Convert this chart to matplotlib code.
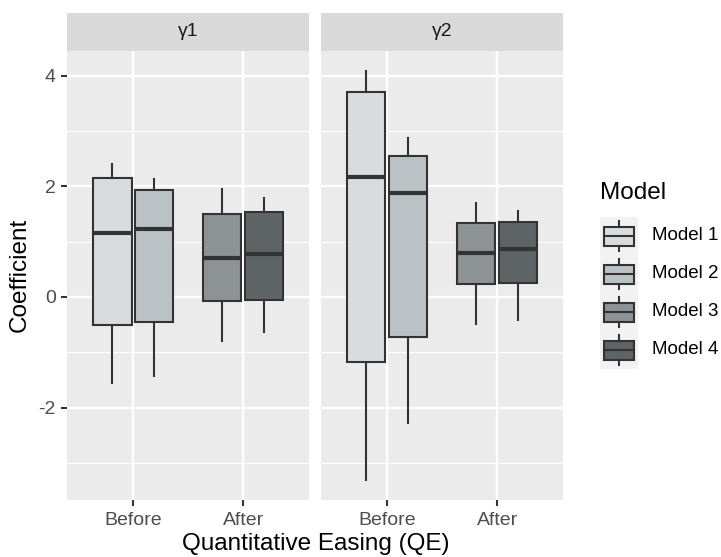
import matplotlib
matplotlib.use('Agg')
import matplotlib.pyplot as plt
from matplotlib.patches import Rectangle
from matplotlib.lines import Line2D

plt.rcParams['font.family'] = ['Liberation Sans', 'DejaVu Sans']
plt.rcParams['axes.unicode_minus'] = False

# ---------------- data ----------------
facets = ['γ1', 'γ2']
periods = ['Before', 'After']
models = ['Model 1', 'Model 2', 'Model 3', 'Model 4']
model_period = ['Before', 'Before', 'After', 'After']
model_offset = [-0.19, 0.19, -0.19, 0.19]
colors = ['#d8dcdf', '#bbc2c5', '#8d9295', '#5e6366']

g1_whislo = [-1.55, -1.43, -0.79, -0.64]
g1_q1 = [-0.50, -0.45, -0.08, -0.05]
g1_med = [1.15, 1.22, 0.71, 0.77]
g1_q3 = [2.14, 1.93, 1.49, 1.53]
g1_whishi = [2.40, 2.13, 1.95, 1.78]

g2_whislo = [-3.30, -2.27, -0.48, -0.41]
g2_q1 = [-1.18, -0.72, 0.24, 0.25]
g2_med = [2.16, 1.88, 0.80, 0.87]
g2_q3 = [3.71, 2.55, 1.34, 1.36]
g2_whishi = [4.08, 2.88, 1.69, 1.55]

facet_stats = [
    (g1_whislo, g1_q1, g1_med, g1_q3, g1_whishi),
    (g2_whislo, g2_q1, g2_med, g2_q3, g2_whishi),
]

yticks = [-2, 0, 2, 4]
yminor = [-3, -1, 1, 3]

# ---------------- layout ----------------
W, H = 721, 557
fig = plt.figure(figsize=(W / 100, H / 100), dpi=100)


def fx(px):
    return px / W


def fy(py):
    return 1 - py / H


panel_x = [(67.3, 309.0), (320.7, 563.3)]
p_top, p_bot = 50.7, 500.0
s_top = 12.7

edge = '#333333'
lw_box = 1.5
lw_med = 3.0

all_lo = min(min(s[0]) for s in facet_stats)
all_hi = max(max(s[4]) for s in facet_stats)
pad = (all_hi - all_lo) * 0.05
ylim = (all_lo - pad, all_hi + pad)

for i, (x0, x1) in enumerate(panel_x):
    ax = fig.add_axes([fx(x0), fy(p_bot), fx(x1 - x0), (p_bot - p_top) / H])
    ax.set_facecolor('#ebebeb')
    for sp in ax.spines.values():
        sp.set_visible(False)
    ax.set_xlim(0.4, 2.6)
    ax.set_ylim(*ylim)
    ax.set_yticks(yticks)
    ax.set_yticks(yminor, minor=True)
    ax.set_xticks([1, 2])
    ax.set_xticklabels(periods)
    ax.grid(which='minor', axis='y', color='white', lw=0.85)
    ax.grid(which='major', axis='both', color='white', lw=1.7)
    ax.set_axisbelow(True)
    ax.tick_params(axis='both', which='major', length=4.4, width=1.5,
                   color='#333333', labelcolor='#4d4d4d', labelsize=14, pad=4)
    ax.tick_params(axis='both', which='minor', length=0)
    if i == 1:
        ax.tick_params(axis='y', which='major', length=0, labelleft=False)

    wl, q1, md, q3, wh = facet_stats[i]
    stats, pos = [], []
    for m in range(len(models)):
        stats.append(dict(whislo=wl[m], q1=q1[m], med=md[m], q3=q3[m],
                          whishi=wh[m], fliers=[], label=models[m]))
        pos.append(periods.index(model_period[m]) + 1 + model_offset[m])
    bp = ax.bxp(stats, positions=pos, widths=0.35, patch_artist=True,
                showfliers=False, showcaps=False, manage_ticks=False,
                boxprops=dict(edgecolor=edge, linewidth=lw_box),
                whiskerprops=dict(color=edge, linewidth=lw_box),
                medianprops=dict(color=edge, linewidth=lw_med,
                                 solid_capstyle='butt'))
    for patch, c in zip(bp['boxes'], colors):
        patch.set_facecolor(c)
    for b in bp['boxes']:
        b.set_zorder(3)
    for w in bp['whiskers']:
        w.set_zorder(2)
    for m_ in bp['medians']:
        m_.set_zorder(4)

    # strip
    sax = fig.add_axes([fx(x0), fy(p_top), fx(x1 - x0), (p_top - s_top) / H])
    sax.set_facecolor('#d9d9d9')
    sax.set_xticks([])
    sax.set_yticks([])
    for sp in sax.spines.values():
        sp.set_visible(False)
    sax.text(0.5, 0.5, facets[i], ha='center', va='center',
             fontsize=14, color='#1a1a1a', transform=sax.transAxes)

# axis titles
fig.text(fx((67.3 + 563.3) / 2), fy(544), 'Quantitative Easing (QE)',
         ha='center', va='center', fontsize=17.5, color='black')
fig.text(fx(20), fy((p_top + p_bot) / 2), 'Coefficient', rotation=90,
         ha='center', va='center', fontsize=17.5, color='black')

# legend
fig.text(fx(600), fy(193), 'Model', ha='left', va='center',
         fontsize=17.5, color='black')
key = 38.0
k_left, k_top = 600.0, 217.0
lax = fig.add_axes([fx(k_left), fy(k_top + key * 4), fx(key), key * 4 / H])
lax.set_xlim(0, 1)
lax.set_ylim(4, 0)
lax.axis('off')
for m, c in enumerate(colors):
    lax.add_patch(Rectangle((0, m), 1, 1, facecolor='#f2f2f2', edgecolor='none'))
    lax.add_line(Line2D([0.5, 0.5], [m + 0.1, m + 0.25], color=edge, lw=lw_box))
    lax.add_line(Line2D([0.5, 0.5], [m + 0.75, m + 0.9], color=edge, lw=lw_box))
    lax.add_patch(Rectangle((0.1, m + 0.25), 0.8, 0.5, facecolor=c,
                            edgecolor=edge, lw=lw_box))
    lax.add_line(Line2D([0.1, 0.9], [m + 0.5, m + 0.5], color=edge, lw=lw_box))
    fig.text(fx(651.7), fy(k_top + key * (m + 0.5)), models[m], ha='left',
             va='center', fontsize=13.5, color='black')

fig.savefig('out.png', dpi=100)
